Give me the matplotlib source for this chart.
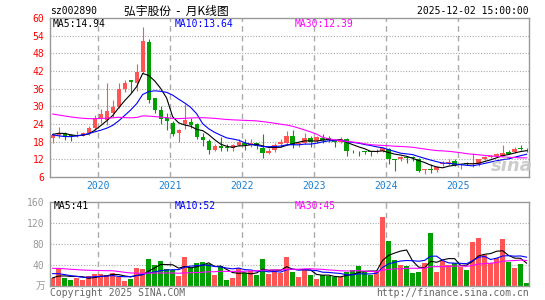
import numpy as np
import pandas as pd
import matplotlib
matplotlib.use('Agg')
import matplotlib.pyplot as plt

# monthly K-line, May 2019 .. Dec 2025
opens = [19.4, 20.3, 20.8, 20.3, 19.9, 20.0, 20.8, 22.5, 26.0, 25.3,
         27.6, 29.9, 35.8, 38.8, 37.8, 41.8, 52.0, 32.7, 28.8, 25.9,
         24.2, 20.8, 23.9, 24.7, 23.9, 19.6, 18.2, 15.2, 16.5, 16.3,
         15.7, 17.0, 17.6, 16.9, 17.5, 16.0, 14.3, 15.2, 17.1, 17.5,
         20.0, 17.2, 17.7, 19.4, 18.1, 19.1, 19.2, 18.6, 17.8, 19.0,
         15.0, 14.9, 14.7, 14.8, 14.5, 14.8, 15.4, 12.1, 12.0, 12.9,
         12.9, 12.1, 8.5, 8.7, 8.4, 10.4, 10.8, 11.6, 10.3, 10.6,
         10.4, 10.4, 12.1, 12.9, 13.2, 13.3, 14.4, 14.6, 16.0, 15.6]
highs = [20.8, 22.9, 21.3, 20.5, 21.5, 21.3, 23.2, 27.0, 29.0, 37.8,
         32.1, 37.8, 39.0, 39.0, 44.3, 57.0, 52.8, 33.0, 30.1, 27.8,
         25.0, 22.2, 30.7, 26.2, 24.5, 21.0, 18.8, 17.1, 19.7, 17.1,
         17.1, 18.8, 19.0, 19.0, 17.7, 20.7, 15.8, 17.5, 18.9, 21.5,
         21.8, 17.9, 21.1, 19.8, 19.8, 20.7, 19.8, 18.9, 19.5, 19.2,
         15.2, 15.0, 15.0, 14.9, 15.4, 16.3, 15.7, 12.2, 13.1, 13.2,
         13.0, 12.3, 8.6, 10.3, 9.7, 11.4, 12.0, 12.0, 10.5, 11.0,
         14.0, 12.2, 13.2, 13.6, 14.1, 16.9, 15.2, 16.2, 16.8, 16.0]
lows = [17.4, 19.3, 18.6, 18.1, 19.5, 19.8, 20.2, 22.0, 24.5, 23.6,
        26.5, 29.3, 35.0, 34.4, 35.2, 41.2, 31.0, 27.8, 23.9, 22.0,
        19.9, 17.9, 22.2, 22.8, 18.8, 16.5, 13.7, 14.8, 15.0, 15.0,
        14.8, 16.5, 15.2, 16.3, 15.4, 12.3, 13.7, 14.6, 16.3, 16.9,
        15.8, 16.3, 17.3, 16.3, 17.5, 17.5, 17.8, 16.3, 17.5, 13.1,
        14.0, 13.1, 13.7, 13.1, 14.0, 14.4, 10.4, 8.1, 11.4, 10.6,
        11.5, 7.8, 6.9, 7.5, 7.8, 9.7, 10.0, 9.6, 8.6, 10.0,
        9.5, 9.7, 11.7, 12.5, 12.9, 13.1, 13.9, 14.3, 15.3, 14.6]
closes = [20.3, 20.5, 19.6, 19.8, 20.0, 21.0, 22.7, 25.9, 27.5, 28.4,
          29.9, 35.8, 38.0, 38.4, 41.5, 52.2, 32.3, 28.8, 25.6, 25.0,
          20.5, 22.0, 25.2, 23.5, 19.6, 18.5, 15.2, 16.5, 16.0, 15.9,
          16.7, 17.8, 16.7, 17.7, 16.6, 14.1, 15.0, 16.9, 17.8, 20.0,
          16.9, 17.5, 19.2, 17.8, 19.5, 18.6, 18.6, 17.8, 18.9, 15.0,
          14.7, 14.8, 14.6, 14.5, 14.8, 15.7, 12.0, 11.9, 12.9, 12.6,
          12.4, 8.1, 8.6, 8.5, 9.5, 10.9, 10.9, 10.0, 10.4, 10.4,
          10.6, 12.0, 12.9, 13.2, 13.9, 14.3, 13.9, 15.5, 15.6, 15.4]
volumes = [15, 33, 15, 11, 15, 11, 19, 22, 22, 20,
           25, 17, 9, 13, 34, 32, 51, 39, 47, 32,
           30, 19, 55, 34, 43, 45, 41, 20, 38, 11,
           15, 34, 25, 28, 20, 51, 22, 28, 25, 55,
           27, 17, 30, 20, 13, 20, 18, 17, 16, 27,
           29, 37, 27, 20, 27, 130, 85, 49, 39, 37,
           25, 27, 43, 101, 27, 48, 39, 43, 36, 30,
           84, 91, 58, 43, 52, 89, 46, 33, 41, 6]

# months before the window, only used to warm up the moving averages
earlier_close = [30, 42, 40, 38, 36, 35, 33, 32, 30, 28.4,
                 24, 22, 20, 18, 17, 18.5, 20, 22, 21.5]
earlier_volume = [60, 55, 48, 45, 42, 40, 38, 37, 35, 30,
                  35, 32, 30, 30, 28, 16, 14, 15, 15]

years = ['2020', '2021', '2022', '2023', '2024', '2025']
year_start = [8, 20, 32, 44, 56, 68]   # index of January bar
price_ticks = [6, 12, 18, 24, 30, 36, 42, 48, 54, 60]
vol_ticks = [40, 80, 120, 160]

RED = '#ff5555'
GREEN = '#00a000'
GRID = '#aaaaaa'
MONO = 'DejaVu Sans Mono'

W, H = 545, 300


def fx(x):
    return x / W


def fy(y):
    return 1 - y / H


def moving_averages(earlier, values):
    s = pd.Series(list(earlier) + list(values), dtype=float)
    n = len(earlier)
    return {k: s.rolling(k, min_periods=1).mean().values[n:] for k in (5, 10, 30)}


def style_axes(ax, x0, x1):
    ax.set_xlim(x0, x1)
    ax.set_xticks([])
    for sp in ax.spines.values():
        sp.set_color('#999999')
        sp.set_linewidth(1.0)
    for ys in year_start:
        ax.axvline(ys - 0.45, color=GRID, lw=1.0, ls=(0, (4, 3)), zorder=0)


fig = plt.figure(figsize=(W / 100, H / 100), dpi=100)
ax = fig.add_axes([fx(50), fy(177), fx(479), 159 / H])
axv = fig.add_axes([fx(50), fy(285.7), fx(479), 84 / H])

idx = np.arange(len(closes))
xmin, xmax = -0.45, 79.4
colors = [RED if c >= o else GREEN for o, c in zip(opens, closes)]

# price panel
style_axes(ax, xmin, xmax)
ax.set_ylim(6, 60)
ax.set_yticks(price_ticks)
ax.set_yticklabels([str(t) for t in price_ticks], family=MONO, fontsize=7)
ax.tick_params(axis='y', length=0, pad=4, labelcolor='red')
for t in price_ticks[1:-1]:
    ax.axhline(t, color=GRID, lw=0.8, ls=(0, (1, 1.5)), zorder=0)

ax.vlines(idx, lows, highs, colors=colors, lw=0.8, zorder=2)
body_lo = np.minimum(opens, closes)
body_h = np.maximum(np.abs(np.array(closes) - np.array(opens)), 0.18)
ax.bar(idx, body_h, bottom=body_lo, width=0.72, color=colors, zorder=3)

ma = moving_averages(earlier_close, closes)
ax.plot(idx, ma[5], color='black', lw=0.8, zorder=4)
ax.plot(idx, ma[10], color='#0000ff', lw=0.8, zorder=4)
ax.plot(idx, ma[30], color='#ff00ff', lw=0.8, zorder=4)

for ys, yr in zip(year_start, years):
    ax.text(ys - 0.45, -0.058, yr, transform=ax.get_xaxis_transform(),
            ha='center', va='center', family=MONO, fontsize=7, color='#1a7fd0')

# faint "sina" watermark in the lower right of the price panel
fig.text(fx(512), fy(166), 'sina', ha='center', va='center', fontsize=13,
         style='italic', weight='bold', color='#c4c4c4', alpha=0.85, zorder=1)

# volume panel
style_axes(axv, xmin, xmax)
axv.set_ylim(0, 160)
axv.set_yticks(vol_ticks)
axv.set_yticklabels([str(t) for t in vol_ticks], family=MONO, fontsize=7)
axv.tick_params(axis='y', length=0, pad=4, labelcolor='#999999')
for t in vol_ticks[:-1]:
    axv.axhline(t, color=GRID, lw=0.8, ls=(0, (1, 1.5)), zorder=0)
axv.bar(idx, volumes, width=0.82, color=colors, zorder=2)

vma = moving_averages(earlier_volume, volumes)
axv.plot(idx, vma[5], color='black', lw=0.8, zorder=3)
axv.plot(idx, vma[10], color='#0000ff', lw=0.8, zorder=3)
axv.plot(idx, vma[30], color='#ff00ff', lw=0.8, zorder=3)

# texts
cjk = ['Noto Sans CJK SC', 'DejaVu Sans']
fig.text(fx(50), fy(11), 'sz002890', family=MONO, fontsize=7, va='center')
fig.text(fx(176), fy(11), '弘宇股份  -  月K线图', family=cjk, fontsize=8.5,
         ha='center', va='center')
fig.text(fx(529), fy(11), '2025-12-02 15:00:00', family=MONO, fontsize=7,
         ha='right', va='center')

fig.text(fx(53), fy(24), 'MA5:14.94', family=MONO, fontsize=7, va='center')
fig.text(fx(175), fy(24), 'MA10:13.64', family=MONO, fontsize=7, va='center', color='#0000ff')
fig.text(fx(295), fy(24), 'MA30:12.39', family=MONO, fontsize=7, va='center', color='#ff00ff')

fig.text(fx(54), fy(206), 'MA5:41', family=MONO, fontsize=7, va='center')
fig.text(fx(175), fy(206), 'MA10:52', family=MONO, fontsize=7, va='center', color='#0000ff')
fig.text(fx(295), fy(206), 'MA30:45', family=MONO, fontsize=7, va='center', color='#ff00ff')

fig.text(fx(45), fy(286), '万', family=cjk, fontsize=7, ha='right', va='center', color='#999999')
fig.text(fx(50), fy(293), 'Copyright 2025 SINA.COM', family=MONO, fontsize=7,
         va='center', color='#666666')
fig.text(fx(529), fy(293), 'http://finance.sina.com.cn', family=MONO, fontsize=7,
         ha='right', va='center', color='#666666')

fig.savefig('out.png', dpi=100)
